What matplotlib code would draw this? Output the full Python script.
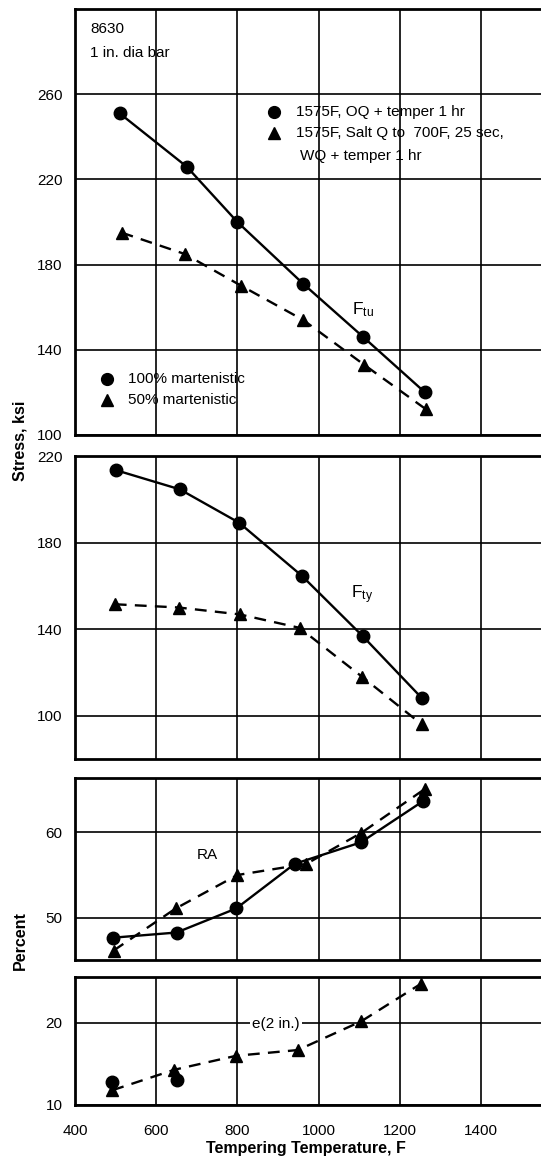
"""8630 steel, 1 in. bar: tensile/yield strength, RA and elongation vs tempering temperature."""

import matplotlib

matplotlib.use("Agg")
import matplotlib.pyplot as plt

FONT = ["Liberation Sans Narrow", "Liberation Sans", "DejaVu Sans"]
plt.rcParams["font.family"] = FONT
plt.rcParams["mathtext.fontset"] = "custom"
plt.rcParams["mathtext.rm"] = "Liberation Sans"

# --- data (temperature F, value) ---
ftu_100_t = [510, 675, 800, 962, 1110, 1262]
ftu_100_v = [251, 226, 200, 171, 146, 120]
ftu_50_t = [515, 670, 810, 962, 1112, 1265]
ftu_50_v = [195, 185, 170, 154, 133, 112]

fty_100_t = [500, 658, 804, 959, 1109, 1255]
fty_100_v = [213.5, 204.6, 189.2, 164.6, 136.7, 108]
fty_50_t = [498, 655, 806, 953, 1107, 1254]
fty_50_v = [151.5, 150, 146.8, 140.6, 118, 96]

ra_100_t = [494, 650, 797, 941, 1104, 1257]
ra_100_v = [47.7, 48.3, 51.1, 56.3, 58.8, 63.6]
ra_50_t = [495, 648, 800, 970, 1105, 1261]
ra_50_v = [46.2, 51.1, 55.0, 56.3, 59.9, 65.0]

el_100_t = [492, 650]
el_100_v = [12.8, 13.0]
el_50_t = [492, 645, 797, 949, 1105, 1253]
el_50_v = [11.8, 14.3, 16.0, 16.7, 20.2, 24.8]

x_ticks = [400, 600, 800, 1000, 1200, 1400]

W, H = 541, 1162
LEFT, RIGHT = 75, 541
DASH = (0, (5, 3.5))


def _axes(fig, top, bottom, ylim, yticks):
    ax = fig.add_axes([LEFT / W, 1 - bottom / H, (RIGHT - LEFT) / W, (bottom - top) / H])
    ax.set_xlim(400, 400 + (RIGHT - LEFT) / 0.406)
    ax.set_ylim(*ylim)
    ax.set_xticks(x_ticks)
    ax.set_yticks(yticks)
    ax.grid(True, color="black", lw=1.2)
    ax.tick_params(length=0, pad=9, labelsize=11, labelbottom=False)
    for sp in ax.spines.values():
        sp.set_linewidth(2.0)
    ax.spines["right"].set_visible(False)
    return ax


def _pair(ax, t_solid, v_solid, t_dash, v_dash, solid_line=True):
    ax.plot(t_dash, v_dash, ls=DASH, color="black", lw=1.7, marker="^", ms=8.5, zorder=3)
    ax.plot(t_solid, v_solid, ls="-" if solid_line else "none", color="black", lw=1.7,
            marker="o", ms=9, zorder=4)


def _key(ax, x, y, marker, label, tx):
    ax.plot([x], [y], marker=marker, color="black", ms=8.5, transform=ax.transAxes, clip_on=False)
    ax.text(tx, y, label, transform=ax.transAxes, va="center", ha="left", fontsize=11)


fig = plt.figure(figsize=(W / 100, H / 100), dpi=100)

ax1 = _axes(fig, 9, 435, (100, 300), [100, 140, 180, 220, 260])
ax2 = _axes(fig, 456, 759, (80, 220), [100, 140, 180, 220])
ax3 = _axes(fig, 778, 960, (45.1, 66.3), [50, 60])
ax4 = _axes(fig, 977, 1105, (10, 25.6), [10, 20])
ax4.tick_params(axis="x", labelbottom=True, pad=14)

_pair(ax1, ftu_100_t, ftu_100_v, ftu_50_t, ftu_50_v)
_pair(ax2, fty_100_t, fty_100_v, fty_50_t, fty_50_v)
_pair(ax3, ra_100_t, ra_100_v, ra_50_t, ra_50_v)
_pair(ax4, el_100_t, el_100_v, el_50_t, el_50_v, solid_line=False)

# panel texts
ax1.text(0.032, 0.953, "8630", transform=ax1.transAxes, va="center", fontsize=11)
ax1.text(0.032, 0.897, "1 in. dia bar", transform=ax1.transAxes, va="center", fontsize=11)
_key(ax1, 0.427, 0.758, "o", "1575F, OQ + temper 1 hr", 0.474)
_key(ax1, 0.427, 0.709, "^", "1575F, Salt Q to  700F, 25 sec,", 0.474)
ax1.text(0.483, 0.655, "WQ + temper 1 hr", transform=ax1.transAxes, va="center", fontsize=11)
_key(ax1, 0.069, 0.131, "o", "100% martenistic", 0.114)
_key(ax1, 0.069, 0.082, "^", "50% martenistic", 0.114)

ax1.text(1082, 159, r"$\mathregular{F_{tu}}$", fontsize=12.5, va="center")
ax2.text(1080, 156, r"$\mathregular{F_{ty}}$", fontsize=12.5, va="center")
ax3.text(727, 57.3, "RA", fontsize=11, ha="center", va="center")
ax4.text(895, 19.9, "e(2 in.)", fontsize=11, ha="center", va="center", zorder=5,
         bbox=dict(facecolor="white", edgecolor="none", pad=1.5))

fig.text(20 / W, 1 - 441 / H, "Stress, ksi", rotation=90, ha="center", va="center",
         fontsize=11.5, fontweight="bold")
fig.text(20 / W, 1 - 941 / H, "Percent", rotation=90, ha="center", va="center",
         fontsize=11.5, fontweight="bold")
fig.text(306 / W, 1 - 1149 / H, "Tempering Temperature, F", ha="center", va="center",
         fontsize=11.5, fontweight="bold")

fig.savefig("out.png", dpi=100)
